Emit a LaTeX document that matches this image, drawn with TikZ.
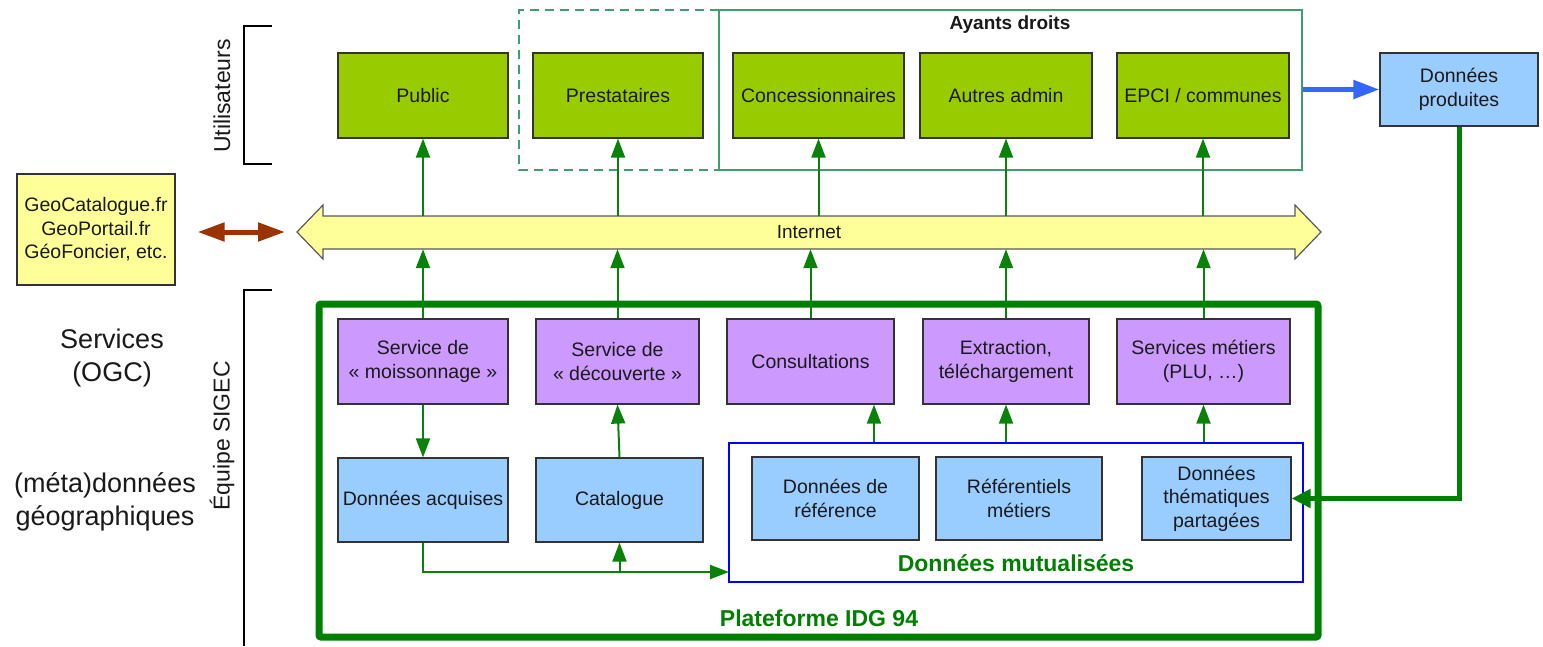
\documentclass[tikz,border=0pt]{standalone}
\usepackage{fontspec}
\setmainfont{Liberation Sans}
\usetikzlibrary{arrows.meta}
\definecolor{boxgreen}{HTML}{99CC00}
\definecolor{boxpurple}{HTML}{CC99FF}
\definecolor{boxblue}{HTML}{99CCFF}
\definecolor{boxyellow}{HTML}{FFFF99}
\definecolor{arrgreen}{HTML}{0A820A}
\definecolor{dkgreen}{HTML}{007F00}
\definecolor{teal}{HTML}{3E9E72}
\definecolor{brownarr}{HTML}{993300}
\definecolor{bluearr}{HTML}{3366FF}
\definecolor{bdr}{HTML}{333333}
\definecolor{txt}{HTML}{1A1A1A}
\tikzset{
  basebox/.style={draw=bdr, line width=1.2pt, inner sep=0pt, align=center, text=txt,
    font=\fontsize{19.5}{23.5}\selectfont},
  gbox/.style={basebox, fill=boxgreen, minimum height=85pt},
  pbox/.style={basebox, fill=boxpurple, minimum height=85pt},
  bbox/.style={basebox, fill=boxblue, minimum height=83pt},
  garr/.style={draw=arrgreen, line width=2pt, -{Triangle[length=19pt,width=14pt]}},
  bracketline/.style={draw=black, line width=1.6pt},
  sidelabel/.style={font=\fontsize{23}{27}\selectfont, text=txt},
  biglabel/.style={font=\fontsize{27}{33}\selectfont, text=txt, align=center},
  greenlabel/.style={font=\bfseries\fontsize{23}{27}\selectfont, text=dkgreen}
}
\begin{document}
\begin{tikzpicture}[x=1pt,y=-1pt]
\useasboundingbox (0,0) rectangle (1543,646);

% brackets and side labels
\draw[bracketline] (272,26) -- (244,26) -- (244,164) -- (272,164);
\draw[bracketline] (272,290) -- (244,290) -- (244,646);
\node[sidelabel, rotate=90] (lutil) at (222,96) {Utilisateurs};
\node[sidelabel, rotate=90] (lequipe) at (222,436) {Équipe SIGEC};
\node[biglabel] (lserv) at (112,358) {Services\\(OGC)};
\node[biglabel] (lmeta) at (105,502) {(méta)données\\géographiques};

% user groups frames
\draw[teal, line width=1.6pt, dash pattern=on 9pt off 6pt] (719,10) -- (519,10) -- (519,170) -- (719,170);
\node[draw=teal, line width=1.6pt, minimum width=583pt, minimum height=160pt, inner sep=0pt] (ayants) at (1010.5,90) {};
\node[font=\bfseries\fontsize{19}{23}\selectfont, text=txt] (layants) at (1010,25) {Ayants droits};

% top row
\node[gbox, minimum width=170pt] (public) at (423,95.5) {Public};
\node[gbox, minimum width=170pt] (prest) at (618,95.5) {Prestataires};
\node[gbox, minimum width=171pt] (conc) at (818.5,95.5) {Concessionnaires};
\node[gbox, minimum width=172pt] (autres) at (1006,95.5) {Autres admin};
\node[gbox, minimum width=172pt] (epci) at (1203,95.5) {EPCI / communes};
\node[bbox, minimum width=158pt, minimum height=73pt] (produites) at (1459,89.5) {Données\\produites};
\draw[bluearr, line width=5pt, -{Triangle[length=26pt,width=18pt]}] (ayants.east |- produites.west) -- (produites.west);

% Internet double arrow
\fill[boxyellow] (297,232) -- (323,205) -- (323,216) -- (1295,216) -- (1295,205) -- (1321,232)
  -- (1295,259) -- (1295,249) -- (323,249) -- (323,259) -- cycle;
\draw[draw=gray!70!black, line width=1.2pt] (297,232) -- (323,205) -- (323,216) -- (1295,216) -- (1295,205) -- (1321,232)
  -- (1295,259) -- (1295,249) -- (323,249) -- (323,259) -- cycle;
\node[inner sep=0pt, minimum width=972pt, minimum height=33pt, font=\fontsize{19}{23}\selectfont, text=txt] (internet) at (809,232.5) {Internet};
\coordinate (intL) at (297,232);

% external catalogues
\node[basebox, fill=boxyellow, minimum width=158pt, minimum height=111pt] (geo) at (96,229.5) {GeoCatalogue.fr\\GeoPortail.fr\\GéoFoncier, etc.};
\draw[brownarr, line width=5pt, {Triangle[length=27pt,width=18pt]}-{Triangle[length=27pt,width=18pt]}] ([xshift=22pt]geo.east |- intL) -- ([xshift=-12pt]intL);

% arrows internet -> users
\foreach \n in {public,prest,conc,autres,epci}
  \draw[garr] (internet.north -| \n) -- (\n.south);

% platform
\draw[dkgreen, line width=7pt, rounded corners=2pt] (319,304) rectangle (1318,637);
\node[greenlabel] (lplat) at (819,618) {Plateforme IDG 94};

% services row
\node[pbox, minimum width=170pt] (moiss) at (423,361.5) {Service de\\« moissonnage »};
\node[pbox, minimum width=163pt] (decouv) at (617.5,361.5) {Service de\\« découverte »};
\node[pbox, minimum width=167pt] (consult) at (810.5,361.5) {Consultations};
\node[pbox, minimum width=166pt] (extract) at (1006,361.5) {Extraction,\\téléchargement};
\node[pbox, minimum width=173pt] (metiers) at (1203.5,361.5) {Services métiers\\(PLU, …)};

\foreach \n in {moiss,decouv,consult,extract,metiers}
  \draw[garr] (\n.north) -- (internet.south -| \n);

% data row
\node[draw=blue, line width=2pt, minimum width=574pt, minimum height=139pt, inner sep=0pt] (mut) at (1016,512.5) {};
\node[greenlabel] (lmut) at (1016,563) {Données mutualisées};
\node[bbox, minimum width=170pt, minimum height=84pt] (acq) at (423,500) {Données acquises};
\node[bbox, minimum width=167pt, minimum height=84pt] (catalogue) at (619.5,500) {Catalogue};
\node[bbox, minimum width=167pt] (ref) at (835.5,498.5) {Données de\\référence};
\node[bbox, minimum width=166pt] (refm) at (1019,498.5) {Référentiels\\métiers};
\node[bbox, minimum width=149pt] (them) at (1216.5,498.5) {Données\\thématiques\\partagées};

% internal arrows
\draw[garr] (moiss.south) -- (acq.north);
\draw[garr] (catalogue.north) -- (decouv.south);
\coordinate (hl) at (729,572);
\draw[garr] (acq.south) |- (hl);
\draw[garr] (catalogue.south |- hl) -- (catalogue.south);
\coordinate (cx) at ([xshift=63.5pt]consult.south);
\draw[garr] (cx |- mut.north) -- (cx);
\draw[garr] (extract.south |- mut.north) -- (extract.south);
\draw[garr] (metiers.south |- mut.north) -- (metiers.south);

% produced data back to shared data
\draw[dkgreen, line width=5pt, -{Triangle[length=19pt,width=18pt]}] (produites.south) |- (them.east);
\end{tikzpicture}
\end{document}
